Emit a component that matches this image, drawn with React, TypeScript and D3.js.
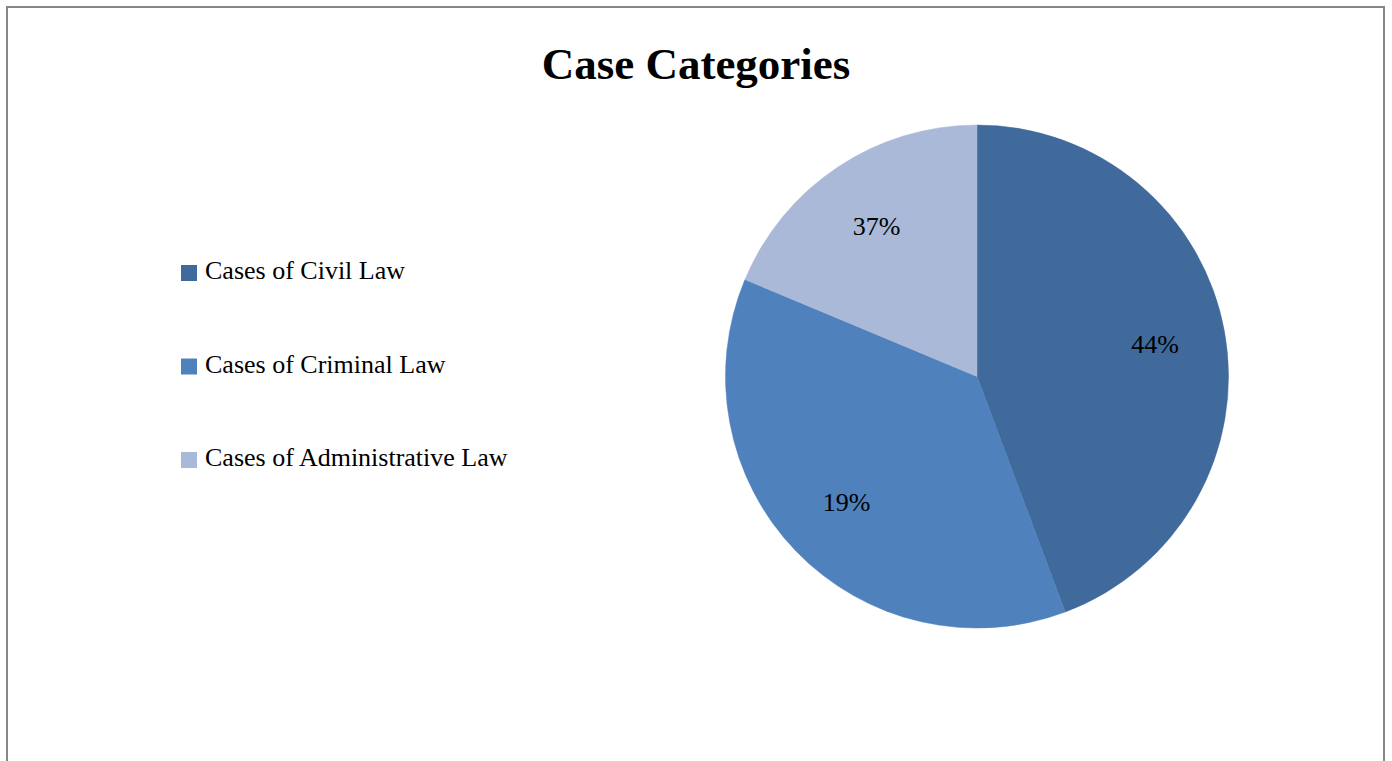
import React from "react";
import * as d3 from "d3";

const categories = ["Cases of Civil Law", "Cases of Criminal Law", "Cases of Administrative Law"];
const values = [44.3, 37.0, 18.7];
const sliceLabels = ["44%", "19%", "37%"];
const colors = ["#406A9B", "#4F81BD", "#AAB9D7"];
const title = "Case Categories";

const W = 1392;
const H = 761;
const cx = 977;
const cy = 376.5;
const R = 251.5;
const FONT = "'Liberation Serif', 'Times New Roman', serif";

export default function App() {
  const pie = d3.pie<number>().sort(null).value((d) => d);
  const arcs = pie(values);
  const arcGen = d3.arc<d3.PieArcDatum<number>>().innerRadius(0).outerRadius(R);
  const labelArc = d3.arc<d3.PieArcDatum<number>>().innerRadius(R * 0.72).outerRadius(R * 0.72);
  const legendY = d3.scaleLinear().domain([0, 2]).range([279, 466]);

  return (
    <svg
      width={W}
      height={H}
      style={{ position: "absolute", left: 0, top: 0, background: "#fff" }}
      fontFamily={FONT}
    >
      <rect x={0} y={0} width={W} height={H} fill="#fff" />
      <rect x={7} y={7} width={1377} height={H + 20} fill="#fff" stroke="#878787" strokeWidth={2} />
      <text x={696} y={79} textAnchor="middle" fontSize={45} fontWeight="bold" fill="#000">
        {title}
      </text>
      <g transform={`translate(${cx},${cy})`}>
        {arcs.map((a, i) => (
          <path key={i} d={arcGen(a) || ""} fill={colors[i]} stroke={colors[i]} strokeWidth={0.5} />
        ))}
        {arcs.map((a, i) => {
          const [x, y] = labelArc.centroid(a);
          return (
            <text key={i} x={x} y={y} dy="0.35em" textAnchor="middle" fontSize={26} fill="#000">
              {sliceLabels[i]}
            </text>
          );
        })}
      </g>
      {categories.map((c, i) => (
        <g key={c}>
          <rect x={181} y={legendY(i) - 14} width={16} height={16} fill={colors[i]} />
          <text x={205} y={legendY(i)} fontSize={26} fill="#000">
            {c}
          </text>
        </g>
      ))}
    </svg>
  );
}
